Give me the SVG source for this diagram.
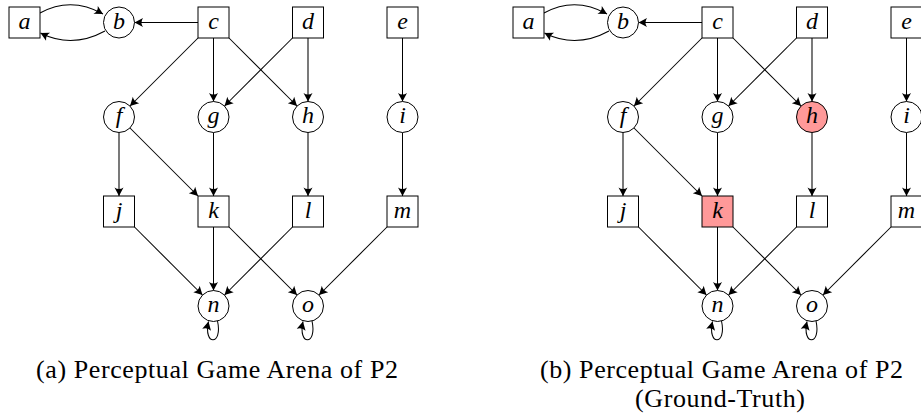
<svg xmlns="http://www.w3.org/2000/svg" width="921" height="417" viewBox="0 0 921 417">
<style>
.nd{fill:#fff;stroke:#000;stroke-width:1}
.hl{fill:#ff9999}
.lb{font-family:"Liberation Serif",serif;font-style:italic;font-size:24px;text-anchor:middle;fill:#000}
.ed{fill:none;stroke:#000;stroke-width:1.05;marker-end:url(#ah)}
.cap{font-family:"Liberation Serif",serif;font-size:26px;fill:#000}
</style>
<defs>
<marker id="ah" markerUnits="userSpaceOnUse" viewBox="-10 -5 11 10" refX="0" refY="0" markerWidth="11" markerHeight="10" orient="auto">
<path d="M0,0 L-8.5,-4.5 Q-5.5,0 -8.5,4.5 Z" fill="#000"/>
</marker>
</defs>
<rect width="921" height="417" fill="#fff"/>

<g id="diagram-a">
<g id="edges-a">
<path class="ed" d="M40,13 Q71,-4 103,14"/>
<path class="ed" d="M105,31 Q72,49 40.5,33"/>
<path class="ed" d="M198,22.5 L134.5,22.5"/>
<path class="ed" d="M198,38 L130,106"/>
<path class="ed" d="M213.5,38 L213.5,101.5"/>
<path class="ed" d="M229,38 L297,106"/>
<path class="ed" d="M292.5,38 L224.5,106"/>
<path class="ed" d="M308,38 L308,101.5"/>
<path class="ed" d="M402.5,38 L402.5,101.5"/>
<path class="ed" d="M119,132.5 L119,196"/>
<path class="ed" d="M130,128 L198,196"/>
<path class="ed" d="M213.5,132.5 L213.5,196"/>
<path class="ed" d="M308,132.5 L308,196"/>
<path class="ed" d="M402.5,132.5 L402.5,196"/>
<path class="ed" d="M134.5,227 L202.5,295"/>
<path class="ed" d="M213.5,227 L213.5,290.5"/>
<path class="ed" d="M229,227 L297,295"/>
<path class="ed" d="M292.5,227 L224.5,295"/>
<path class="ed" d="M387,227 L319,295"/>
<path class="ed" d="M217.5,321 C223,346 203,346 208.5,321.5"/>
<path class="ed" d="M312,321 C317.5,346 297.5,346 303,321.5"/>
</g>
<g id="a-a"><rect class="nd" x="9" y="7" width="31" height="31"/><text class="lb" x="24.5" y="28.5">a</text></g>
<g id="a-b"><circle class="nd" cx="119" cy="22.5" r="15.5"/><text class="lb" x="119" y="28.5">b</text></g>
<g id="a-c"><rect class="nd" x="198" y="7" width="31" height="31"/><text class="lb" x="213.5" y="28.5">c</text></g>
<g id="a-d"><rect class="nd" x="292.5" y="7" width="31" height="31"/><text class="lb" x="308" y="28.5">d</text></g>
<g id="a-e"><rect class="nd" x="387" y="7" width="31" height="31"/><text class="lb" x="402.5" y="28.5">e</text></g>
<g id="a-f"><circle class="nd" cx="119" cy="117" r="15.5"/><text class="lb" x="119" y="123">f</text></g>
<g id="a-g"><circle class="nd" cx="213.5" cy="117" r="15.5"/><text class="lb" x="213.5" y="123">g</text></g>
<g id="a-h"><circle class="nd" cx="308" cy="117" r="15.5"/><text class="lb" x="308" y="123">h</text></g>
<g id="a-i"><circle class="nd" cx="402.5" cy="117" r="15.5"/><text class="lb" x="402.5" y="123">i</text></g>
<g id="a-j"><rect class="nd" x="103.5" y="196" width="31" height="31"/><text class="lb" x="119" y="217.5">j</text></g>
<g id="a-k"><rect class="nd" x="198" y="196" width="31" height="31"/><text class="lb" x="213.5" y="217.5">k</text></g>
<g id="a-l"><rect class="nd" x="292.5" y="196" width="31" height="31"/><text class="lb" x="308" y="217.5">l</text></g>
<g id="a-m"><rect class="nd" x="387" y="196" width="31" height="31"/><text class="lb" x="402.5" y="217.5">m</text></g>
<g id="a-n"><circle class="nd" cx="213.5" cy="306" r="15.5"/><text class="lb" x="213.5" y="312">n</text></g>
<g id="a-o"><circle class="nd" cx="308" cy="306" r="15.5"/><text class="lb" x="308" y="312">o</text></g>
<text class="cap" x="36" y="378" textLength="362" lengthAdjust="spacing">(a) Perceptual Game Arena of P2</text>
</g>

<g id="diagram-b">
<g transform="translate(504,0)">
<g id="edges-b">
<path class="ed" d="M40,13 Q71,-4 103,14"/>
<path class="ed" d="M105,31 Q72,49 40.5,33"/>
<path class="ed" d="M198,22.5 L134.5,22.5"/>
<path class="ed" d="M198,38 L130,106"/>
<path class="ed" d="M213.5,38 L213.5,101.5"/>
<path class="ed" d="M229,38 L297,106"/>
<path class="ed" d="M292.5,38 L224.5,106"/>
<path class="ed" d="M308,38 L308,101.5"/>
<path class="ed" d="M402.5,38 L402.5,101.5"/>
<path class="ed" d="M119,132.5 L119,196"/>
<path class="ed" d="M130,128 L198,196"/>
<path class="ed" d="M213.5,132.5 L213.5,196"/>
<path class="ed" d="M308,132.5 L308,196"/>
<path class="ed" d="M402.5,132.5 L402.5,196"/>
<path class="ed" d="M134.5,227 L202.5,295"/>
<path class="ed" d="M213.5,227 L213.5,290.5"/>
<path class="ed" d="M229,227 L297,295"/>
<path class="ed" d="M292.5,227 L224.5,295"/>
<path class="ed" d="M387,227 L319,295"/>
<path class="ed" d="M217.5,321 C223,346 203,346 208.5,321.5"/>
<path class="ed" d="M312,321 C317.5,346 297.5,346 303,321.5"/>
</g>
<g id="b-a"><rect class="nd" x="9" y="7" width="31" height="31"/><text class="lb" x="24.5" y="28.5">a</text></g>
<g id="b-b"><circle class="nd" cx="119" cy="22.5" r="15.5"/><text class="lb" x="119" y="28.5">b</text></g>
<g id="b-c"><rect class="nd" x="198" y="7" width="31" height="31"/><text class="lb" x="213.5" y="28.5">c</text></g>
<g id="b-d"><rect class="nd" x="292.5" y="7" width="31" height="31"/><text class="lb" x="308" y="28.5">d</text></g>
<g id="b-e"><rect class="nd" x="387" y="7" width="31" height="31"/><text class="lb" x="402.5" y="28.5">e</text></g>
<g id="b-f"><circle class="nd" cx="119" cy="117" r="15.5"/><text class="lb" x="119" y="123">f</text></g>
<g id="b-g"><circle class="nd" cx="213.5" cy="117" r="15.5"/><text class="lb" x="213.5" y="123">g</text></g>
<g id="b-h"><circle class="nd hl" cx="308" cy="117" r="15.5"/><text class="lb" x="308" y="123">h</text></g>
<g id="b-i"><circle class="nd" cx="402.5" cy="117" r="15.5"/><text class="lb" x="402.5" y="123">i</text></g>
<g id="b-j"><rect class="nd" x="103.5" y="196" width="31" height="31"/><text class="lb" x="119" y="217.5">j</text></g>
<g id="b-k"><rect class="nd hl" x="198" y="196" width="31" height="31"/><text class="lb" x="213.5" y="217.5">k</text></g>
<g id="b-l"><rect class="nd" x="292.5" y="196" width="31" height="31"/><text class="lb" x="308" y="217.5">l</text></g>
<g id="b-m"><rect class="nd" x="387" y="196" width="31" height="31"/><text class="lb" x="402.5" y="217.5">m</text></g>
<g id="b-n"><circle class="nd" cx="213.5" cy="306" r="15.5"/><text class="lb" x="213.5" y="312">n</text></g>
<g id="b-o"><circle class="nd" cx="308" cy="306" r="15.5"/><text class="lb" x="308" y="312">o</text></g>
</g>
<text class="cap" x="540" y="378" textLength="363" lengthAdjust="spacing">(b) Perceptual Game Arena of P2</text>
<text class="cap" x="635" y="407" textLength="170" lengthAdjust="spacing">(Ground-Truth)</text>
</g>
</svg>
